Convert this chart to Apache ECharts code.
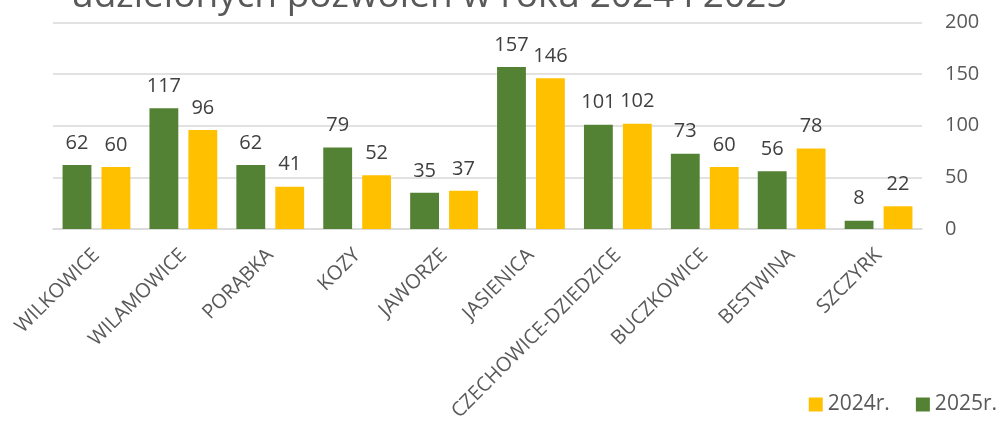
<!DOCTYPE html>
<html>
<head>
<meta charset="utf-8">
<script src="https://cdn.jsdelivr.net/npm/echarts@6/dist/echarts.min.js"></script>
<style>
  html, body { margin: 0; padding: 0; background: #fff; }
  #chart { width: 1006px; height: 424px; }
</style>
</head>
<body>
<div id="chart"></div>
<script>
// gminy i liczba pozwoleń
const gminy = ['WILKOWICE', 'WILAMOWICE', 'PORĄBKA', 'KOZY', 'JAWORZE', 'JASIENICA', 'CZECHOWICE-DZIEDZICE', 'BUCZKOWICE', 'BESTWINA', 'SZCZYRK'];
const rok2025 = [62, 117, 62, 79, 35, 157, 101, 73, 56, 8];
const rok2024 = [60, 96, 41, 52, 37, 146, 102, 60, 78, 22];
const yTicks = [0, 50, 100, 150, 200];

const myChart = echarts.init(document.getElementById('chart'));

const etykieta = {
    show: true,
    position: 'top',
    distance: 12,
    color: '#404040',
    fontSize: 20,
    fontFamily: 'Open Sans'
};

myChart.setOption({
    animation: false,
    title: {
        text: 'udzielonych pozwoleń w roku 2024 i 2025',
        left: 66,
        top: -27,
        textStyle: {
            color: '#595959',
            fontSize: 37,
            fontWeight: 'normal',
            fontFamily: 'Open Sans'
        }
    },
    legend: {
        data: ['2024r.', '2025r.'],
        right: 4,
        bottom: 4,
        itemWidth: 14,
        itemHeight: 14,
        itemGap: 26,
        icon: 'rect',
        textStyle: { color: '#595959', fontSize: 21, fontFamily: 'Open Sans' }
    },
    grid: { left: 53, right: 84, top: 22.5, bottom: 195 },
    xAxis: {
        type: 'category',
        data: gminy,
        axisLine: { lineStyle: { color: '#d9d9d9', width: 1.5 } },
        axisTick: { show: false },
        axisLabel: {
            rotate: 45,
            margin: 23,
            interval: 0,
            color: '#595959',
            fontSize: 20,
            fontFamily: 'Open Sans'
        }
    },
    yAxis: {
        type: 'value',
        position: 'right',
        min: yTicks[0],
        max: yTicks[yTicks.length - 1],
        interval: 50,
        axisLine: { show: false },
        axisTick: { show: false },
        splitLine: { lineStyle: { color: '#d9d9d9', width: 1.5 } },
        axisLabel: {
            margin: 23,
            color: '#595959',
            fontSize: 20,
            fontFamily: 'Open Sans'
        }
    },
    series: [
        {
            name: '2025r.',
            type: 'bar',
            data: rok2025,
            barGap: '35%',
            barCategoryGap: '22%',
            itemStyle: { color: '#548235' },
            label: etykieta
        },
        {
            name: '2024r.',
            type: 'bar',
            data: rok2024,
            itemStyle: { color: '#FFC000' },
            label: etykieta
        }
    ]
});
</script>
</body>
</html>
